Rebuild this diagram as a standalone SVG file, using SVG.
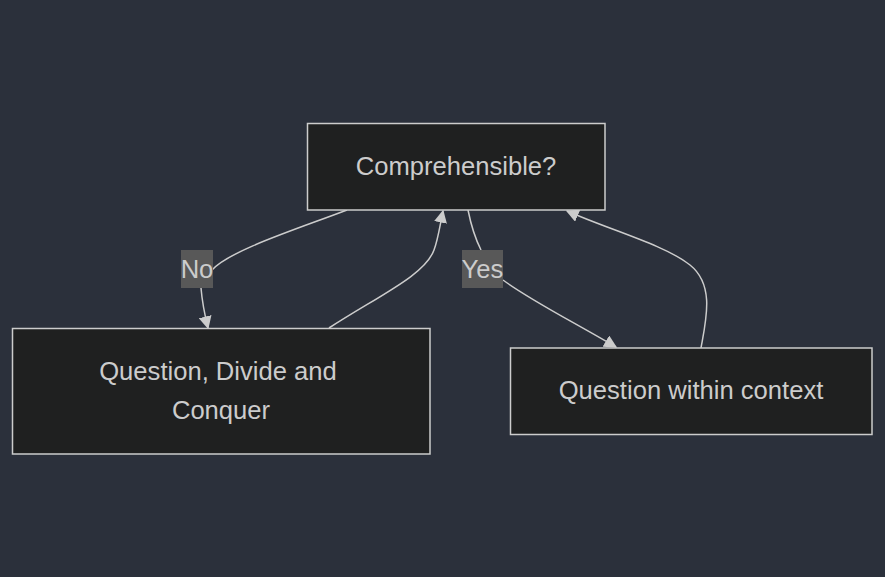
<svg xmlns="http://www.w3.org/2000/svg" width="885" height="577" viewBox="0 0 885 577">
<style>
.node rect{fill:#1f2020;stroke:#cccccc;stroke-width:1.5}
.t{font-family:"Liberation Sans",Arial,sans-serif;font-size:25.6px;fill:#cccccc;text-anchor:middle}
.e{fill:none;stroke:#cccccc;stroke-width:1.5}
.lb{fill:#585858}
</style>
<defs>
<marker id="ah" viewBox="0 0 10 10" refX="9" refY="5" markerWidth="13" markerHeight="13" markerUnits="userSpaceOnUse" orient="auto">
<path d="M0,0 L10,5 L0,10 z" fill="#cccccc"/>
</marker>
</defs>
<rect width="885" height="577" fill="#2b303b"/>
<g id="edges">
<path class="e" d="M347,210 C300,228 230,250 212,270" />
<path class="e" d="M201,288 C202,300 204,312 208,328" marker-end="url(#ah)"/>
<path class="e" d="M329,328 C380,295 425,275 434,250 C438,240 440,225 443,211" marker-end="url(#ah)"/>
<path class="e" d="M468,210 C471,225 475,238 481,250"/>
<path class="e" d="M503,280 C530,300 570,320 616,347" marker-end="url(#ah)"/>
<path class="e" d="M701,348 C706,320 715,285 690,265 C665,245 610,230 567,211" marker-end="url(#ah)"/>
<rect class="lb" x="181" y="250" width="32" height="38"/>
<text class="t" x="197" y="278">No</text>
<rect class="lb" x="462" y="250" width="41" height="38"/>
<text class="t" x="482.5" y="278">Yes</text>
</g>
<g id="n1" class="node">
<rect x="307.5" y="123.5" width="297.5" height="86.5"/>
<text class="t" x="456" y="175">Comprehensible?</text>
</g>
<g id="n2" class="node">
<rect x="12.5" y="328.5" width="417.5" height="125.5"/>
<text class="t" x="218" y="380">Question, Divide and</text>
<text class="t" x="221" y="419">Conquer</text>
</g>
<g id="n3" class="node">
<rect x="510.5" y="348" width="361.5" height="86.5"/>
<text class="t" x="691" y="399">Question within context</text>
</g>
</svg>
